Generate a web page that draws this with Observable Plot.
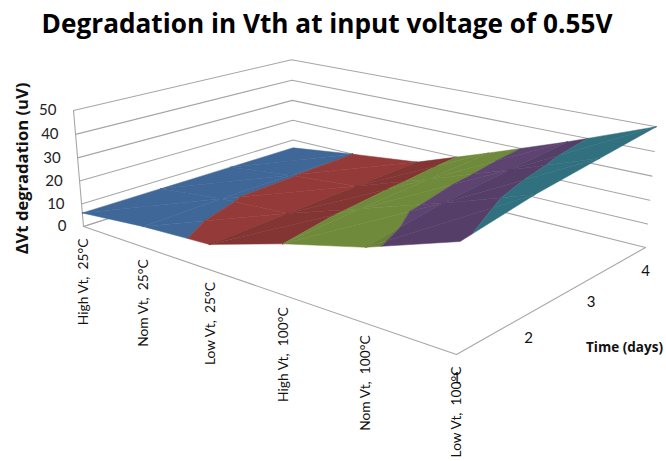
<!DOCTYPE html>
<html><head><meta charset="utf-8">
<script src="https://cdn.jsdelivr.net/npm/d3@7"></script>
<script src="https://cdn.jsdelivr.net/npm/@observablehq/plot@0.6"></script>
<style>
html,body{margin:0;padding:0;background:#fff}
#title{height:46px;text-align:center;font:700 26.2px/46px "Open Sans",sans-serif;color:#000;width:654px;white-space:nowrap}
svg{display:block}
</style></head><body>
<div id="title">Degradation in Vth at input voltage of 0.55V</div>
<div id="chart"></div>
<script>
const categories = ["High Vt,  25°C","Nom Vt,  25°C","Low Vt,  25°C","High Vt,  100°C","Nom Vt,  100°C","Low Vt,  100°C"];
const days = [1,2,3,4];
const day1 = [6, 8.9, 10.5, 20, 28, 39.3];
const day2 = [6, 9.6, 11.5, 22, 32.6, 44];
const day3 = [6, 9.8, 12.5, 23.5, 35, 47];
const day4 = [6, 10, 13.5, 25, 37, 50];
const series = [day1, day2, day3, day4];
const zTicks = [0,10,20,30,40,50];
const bandLow  = [0,10,20,30,40];
const lightColors = ["#3f6797","#943b39","#6f8a3b","#5c4370","#31707f"];
const column2Colors = ["#3f6797","#823533","#6f8a3b","#5c4370","#31707f"];
const column4Colors = ["#3f6797","#823533","#687f38","#553f68","#31707f"];

// camera calibration: cube corners (u,v,w) -> picture
const calib = [
 [0,0,0, 83,226],[1,0,0, 456,354],[1,1,0, 645,247],[0,1,0, 293,159],
 [0,0,1, 73,110],[1,1,1, 656,126]];
function solve(A,b){const n=b.length,M=A.map((r,i)=>[...r,b[i]]);
 for(let i=0;i<n;i++){let p=i;for(let r=i+1;r<n;r++)if(Math.abs(M[r][i])>Math.abs(M[p][i]))p=r;
  [M[i],M[p]]=[M[p],M[i]];
  for(let r=0;r<n;r++){if(r===i)continue;const f=M[r][i]/M[i][i];for(let c=i;c<=n;c++)M[r][c]-=f*M[i][c];}}
 return M.map((r,i)=>r[n]/r[i]);}
const rows=[],rhs=[];
calib.forEach(([u,v,w,x,y])=>{
 rows.push([u,v,w,1,0,0,0,0,-x*u,-x*v,-x*w]);rhs.push(x);
 if(rows.length<11){rows.push([0,0,0,0,u,v,w,1,-y*u,-y*v,-y*w]);rhs.push(y);}
});
const P=solve(rows,rhs);
function project(u,v,w){const d=P[8]*u+P[9]*v+P[10]*w+1;
 return [(P[0]*u+P[1]*v+P[2]*w+P[3])/d,(P[4]*u+P[5]*v+P[6]*w+P[7])/d];}
const U=i=>i/(categories.length-1), V=j=>j/(days.length-1), W=z=>z/50;

// grid lines
const grid=[];
zTicks.forEach(z=>{[[0,0],[0,1],[1,1]].forEach(([u,v])=>{const [x,y]=project(u,v,W(z));grid.push({id:"g"+z,x,y});});});
[[0,0],[1,0],[1,1]].forEach(([u,v])=>{const [x,y]=project(u,v,0);grid.push({id:"floor",x,y});});
[[0,0,0],[0,0,1]].forEach(([u,v,w])=>{const [x,y]=project(u,v,w);grid.push({id:"wall",x,y});});
[[0,0,0],[0,1,0]].forEach(([u,v,w])=>{const [x,y]=project(u,v,w);grid.push({id:"floor2",x,y});});

// clip a polygon of [u,v,z] to lo<=z<=hi
function clip(poly,keep,cross){const out=[];
 poly.forEach((a,i)=>{const b=poly[(i+1)%poly.length],ka=keep(a),kb=keep(b);
  if(ka)out.push(a);
  if(ka!==kb){const t=(cross-a[2])/(b[2]-a[2]);out.push([a[0]+t*(b[0]-a[0]),a[1]+t*(b[1]-a[1]),cross]);}});
 return out;}
const polys=[];let pid=0;
for(let j=days.length-2;j>=0;j--)for(let i=0;i<categories.length-1;i++){
 const p=(a,b)=>[U(a),V(b),series[b][a]];
 const tris=[[p(i,j),p(i+1,j),p(i+1,j+1)],[p(i,j),p(i+1,j+1),p(i,j+1)]];
 tris.forEach(tri=>bandLow.forEach((lo,k)=>{
  let q=clip(tri,a=>a[2]>=lo,lo); if(q.length) q=clip(q,a=>a[2]<=lo+10,lo+10);
  if(q.length<3)return; pid++;
  const palette=i===2?column2Colors:i===4?column4Colors:lightColors;
  const color=palette[k];
  q.forEach(a=>{const [x,y]=project(a[0],a[1],W(a[2]));polys.push({id:pid,x,y,color});});
 }));
}
const catLabels=categories.map((t,i)=>{const [x,y]=project(U(i),0,0);return {t,x,y};});
const dayLabels=days.map((t,j)=>{const [x,y]=project(1,V(j),0);return {t:String(t),x,y};});
const zLabels=zTicks.map(z=>{const [x,y]=project(0,0,W(z));return {t:String(z),x,y};});

const T=46,H=461-T;
const font="Lato, sans-serif";
const plot=Plot.plot({
 width:666,height:H,margin:0,
 x:{domain:[0,666],range:[0,666],axis:null},
 y:{domain:[T,461],range:[0,H],axis:null},
 color:{type:"identity"},
 style:{background:"#fff",fontFamily:font},
 marks:[
  Plot.line(grid,{x:"x",y:"y",z:"id",stroke:"#a6a6a6",strokeWidth:1.1}),
  Plot.line(polys,{x:"x",y:"y",z:"id",fill:"color",stroke:"color",strokeWidth:0.5,curve:"linear-closed"}),
  Plot.text(catLabels,{x:"x",y:"y",text:"t",rotate:-90,textAnchor:"end",dy:12,fontSize:13.8,fill:"#111"}),
  Plot.text(zLabels,{x:"x",y:"y",text:"t",textAnchor:"end",dx:-17,fontSize:15,fill:"#222"}),
  Plot.text(dayLabels,{x:"x",y:"y",text:"t",dy:24,fontSize:15,fill:"#111"}),
  Plot.text(["ΔVt degradation (uV)"],{x:()=>22,y:()=>168,text:d=>d,rotate:-90,fontSize:16.6,fontWeight:700,fontFamily:"Open Sans",fill:"#111"}),
  Plot.text(["Time (days)"],{x:()=>624,y:()=>347,text:d=>d,fontSize:13.5,fontWeight:700,fontFamily:"Open Sans",fill:"#111"})
 ]
});
document.getElementById("chart").append(plot);
</script>
</body></html>
